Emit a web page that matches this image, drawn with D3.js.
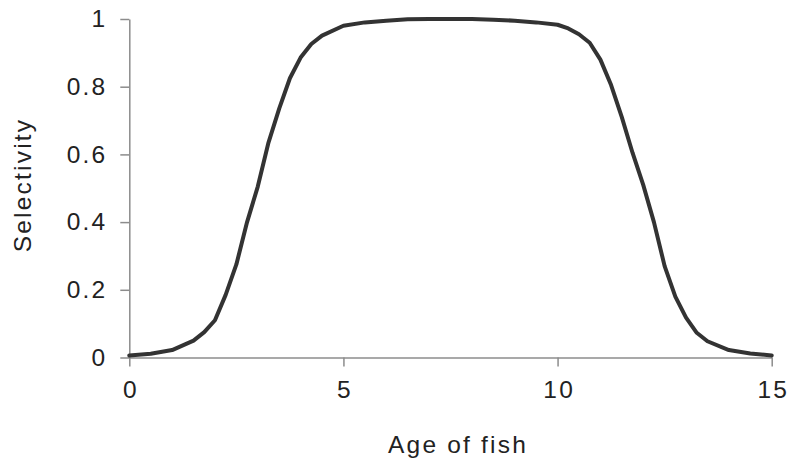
<!DOCTYPE html>
<html>
<head>
<meta charset="utf-8">
<script src="https://cdn.jsdelivr.net/npm/d3@7"></script>
<style>
  html, body { margin: 0; padding: 0; background: #ffffff; }
  svg text { font-family: "Liberation Sans", Arial, sans-serif; fill: #222; }
</style>
</head>
<body>
<svg id="chart" width="791" height="468"></svg>
<script>
const ages = [0, 0.5, 1, 1.5, 1.75, 2, 2.25, 2.5, 2.75, 3, 3.25, 3.5, 3.75, 4, 4.25, 4.5, 5, 5.5, 6, 6.5, 7, 7.5, 8, 8.5, 9, 9.5, 10, 10.25, 10.5, 10.75, 11, 11.25, 11.5, 11.75, 12, 12.25, 12.5, 12.75, 13, 13.25, 13.5, 14, 14.5, 15];
const selectivity = [0.006, 0.011, 0.022, 0.05, 0.075, 0.11, 0.185, 0.275, 0.40, 0.505, 0.635, 0.735, 0.825, 0.886, 0.926, 0.951, 0.98, 0.99, 0.995, 0.999, 1.0, 1.0, 1.0, 0.998, 0.995, 0.99, 0.983, 0.972, 0.955, 0.93, 0.88, 0.805, 0.71, 0.605, 0.51, 0.40, 0.27, 0.18, 0.118, 0.073, 0.048, 0.022, 0.012, 0.006];
const xTicks = [0, 5, 10, 15];
const yTicks = [0, 0.2, 0.4, 0.6, 0.8, 1];
const xTitle = "Age of fish";
const yTitle = "Selectivity";

const svg = d3.select("#chart");
const x = d3.scaleLinear().domain([0, 15]).range([129.3, 771.7]);
const y = d3.scaleLinear().domain([0, 1]).range([357.5, 19]);

const axisColor = "#8c8c8c";
const fontSize = 24.5;
const spacing = 2.2;

const gx = svg.append("g").attr("transform", `translate(0,${y(0)})`)
  .call(d3.axisBottom(x).tickValues(xTicks).tickSizeInner(9).tickSizeOuter(0).tickPadding(14).tickFormat(d3.format("d")));
const gy = svg.append("g").attr("transform", `translate(${x(0)},0)`)
  .call(d3.axisLeft(y).tickValues(yTicks).tickSizeInner(9).tickSizeOuter(0).tickPadding(13).tickFormat(d => d === 0 || d === 1 ? String(d) : d.toFixed(1)));

[gx, gy].forEach(g => {
  g.select(".domain").attr("stroke", axisColor).attr("stroke-width", 1.5);
  g.selectAll(".tick line").attr("stroke", axisColor).attr("stroke-width", 1.5);
  g.selectAll(".tick text").attr("font-size", fontSize).attr("letter-spacing", spacing)
    .attr("font-family", "Liberation Sans, Arial, sans-serif").attr("fill", "#222");
});
gx.selectAll(".tick text").attr("dx", spacing / 2);

const line = d3.line().x((d, i) => x(ages[i])).y(d => y(d)).curve(d3.curveLinear);
svg.append("path").datum(selectivity)
  .attr("d", line)
  .attr("fill", "none")
  .attr("stroke", "#333333")
  .attr("stroke-width", 4)
  .attr("stroke-linejoin", "round")
  .attr("stroke-linecap", "round");

svg.append("text").attr("x", 458).attr("y", 453).attr("text-anchor", "middle")
  .attr("font-size", fontSize).attr("letter-spacing", spacing).text(xTitle);
svg.append("text").attr("transform", `translate(31,185) rotate(-90)`).attr("text-anchor", "middle")
  .attr("font-size", fontSize).attr("letter-spacing", spacing).text(yTitle);
</script>
</body>
</html>
